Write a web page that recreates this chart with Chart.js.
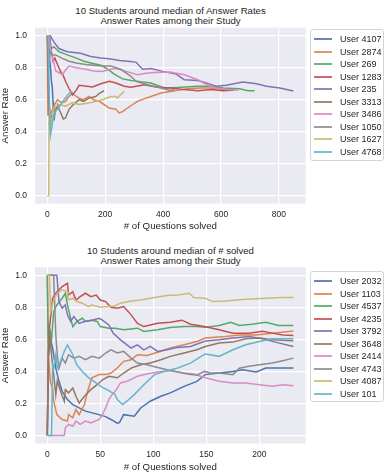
<!DOCTYPE html>
<html>
<head>
<meta charset="utf-8">
<script src="https://cdn.jsdelivr.net/npm/chart.js@4/dist/chart.umd.min.js"></script>
<style>
  body { margin: 0; background: #fff; font-family: "Liberation Sans", Arial, sans-serif; }
  #wrap { position: relative; width: 387px; height: 475px; overflow: hidden; }
  canvas { position: absolute; left: 0; }
  .title { position: absolute; left: 35px; width: 271px; text-align: center; font-size: 9.6px; line-height: 10px; color: #262626; white-space: nowrap; }
  .legend { position: absolute; left: 310px; width: 74px; box-sizing: border-box; border: 1px solid #d4d4d4; border-radius: 3px; background: rgba(255,255,255,0.85); padding: 3px 0 0 3px; }
  .legend-item { height: 12.5px; display: flex; align-items: center; font-size: 9px; color: #262626; white-space: nowrap; }
  .legend-swatch { width: 18px; height: 0; border-top: 2px solid; opacity: 0.85; margin-right: 8px; }
</style>
</head>
<body>
<div id="wrap">
  <div class="title" style="top:5.5px">10 Students around median of Answer Rates<br>Answer Rates among their Study</div>
  <canvas id="chart-top" width="387" height="237" style="top:0"></canvas>
  <div class="legend" id="legend-top" style="top:29px;height:132px"></div>

  <div class="title" style="top:245.5px">10 Students around median of # solved<br>Answer Rates among their Study</div>
  <canvas id="chart-bottom" width="387" height="238" style="top:237px"></canvas>
  <div class="legend" id="legend-bottom" style="top:271px;height:131px"></div>
</div>
<script>
// ---------------- labels / ticks ----------------
const TOP_USERS = ["User 4107", "User 2874", "User 269", "User 1283", "User 235",
                   "User 3313", "User 3486", "User 1050", "User 1627", "User 4768"];
const BOTTOM_USERS = ["User 2032", "User 1103", "User 4537", "User 4235", "User 3792",
                      "User 3648", "User 2414", "User 4743", "User 4087", "User 101"];
const COLORS = ["#4C72B0", "#DD8452", "#55A868", "#C44E52", "#8172B3",
                "#937860", "#DA8BC3", "#8C8C8C", "#CCB974", "#64B5CD"];
const TOP_X_TICKS = [0, 200, 400, 600, 800];
const BOTTOM_X_TICKS = [0, 50, 100, 150, 200];
const Y_TICKS = [0, 0.2, 0.4, 0.6, 0.8, 1.0];

// ---------------- top chart: [questions solved, answer rate] ----------------
const top4107 = [[0,1],[4,1],[7,0.86],[11,0.81],[14,0.72],[17,0.68],[20,0.58],[23,0.47],[27,0.52],[32,0.55],[36,0.57],[40,0.56]];
const top2874 = [[0,1],[2,0.5],[5,0.6],[10,0.5],[20,0.55],[35,0.6],[50,0.58],[63,0.59],[75,0.62],[87,0.64],[100,0.62],[110,0.61],[125,0.6],[144,0.62],[160,0.6],[179,0.59],[196,0.57],[214,0.548],[237,0.54],[248,0.517],[260,0.525],[277,0.548],[295,0.57],[312,0.59],[335,0.605],[358,0.62],[393,0.642],[439,0.656],[485,0.669],[531,0.673],[566,0.673],[600,0.665],[640,0.66]];
const top269 = [[0,1],[6,1],[12,0.92],[23,0.93],[40,0.9],[69,0.88],[100,0.86],[127,0.84],[150,0.83],[185,0.815],[210,0.79],[231,0.76],[260,0.73],[290,0.72],[323,0.713],[358,0.704],[404,0.673],[451,0.677],[520,0.684],[566,0.684],[607,0.673],[664,0.669],[693,0.656],[716,0.656]];
const top1283 = [[0,1],[8,1],[14,0.9],[20,0.84],[26,0.86],[35,0.82],[45,0.78],[55,0.75],[63,0.715],[75,0.67],[87,0.63],[100,0.66],[110,0.69],[130,0.685],[156,0.68],[185,0.7],[214,0.715],[237,0.704],[266,0.684],[289,0.678],[335,0.694],[381,0.678],[427,0.673],[473,0.663],[520,0.656],[566,0.663],[607,0.656],[647,0.66]];
const top235 = [[0,1],[10,1],[23,0.96],[40,0.92],[69,0.9],[115,0.89],[150,0.87],[185,0.86],[219,0.855],[250,0.845],[277,0.84],[306,0.835],[329,0.79],[358,0.795],[398,0.777],[445,0.76],[473,0.725],[520,0.72],[549,0.705],[583,0.684],[618,0.69],[676,0.71],[722,0.7],[757,0.684],[803,0.673],[850,0.655]];
const top3313 = [[0,1],[4,0.67],[8,0.44],[15,0.5],[23,0.51],[35,0.56],[46,0.52],[55,0.48],[63,0.486],[75,0.54],[90,0.57],[110,0.6],[125,0.59],[144,0.61],[167,0.62],[180,0.64],[196,0.656]];
const top3486 = [[0,1],[6,1],[11,0.92],[20,0.85],[29,0.78],[40,0.77],[52,0.756],[65,0.79],[75,0.81],[100,0.8],[133,0.79],[160,0.78],[190,0.777],[219,0.79],[237,0.795],[266,0.78],[312,0.756],[340,0.765],[370,0.77],[422,0.773],[473,0.756],[520,0.725],[549,0.694],[583,0.673],[629,0.663],[660,0.659]];
const top1050 = [[0,1],[5,0.8],[10,0.9],[17,0.88],[29,0.88],[50,0.86],[75,0.84],[100,0.83],[133,0.82],[160,0.815],[190,0.81],[219,0.81],[237,0.8],[254,0.79],[289,0.746],[306,0.715],[347,0.694],[393,0.673],[422,0.659],[440,0.66]];
const top1627 = [[0,0],[5,0],[6,0.46],[10,0.5],[15,0.45],[23,0.548],[40,0.57],[63,0.56],[87,0.58],[110,0.57],[144,0.58],[190,0.6],[219,0.62],[237,0.62],[243,0.61],[255,0.635],[266,0.652]];
const top4768 = [[0,1],[4,1],[7,0.6],[11,0.38],[15,0.42],[20,0.48],[29,0.53],[40,0.55],[50,0.58],[58,0.6],[75,0.64],[87,0.65]];

// ---------------- bottom chart ----------------
const bot2032 = [[0,0],[1,0.5],[3,0.6],[5,0.546],[6,0.504],[8,0.42],[11,0.338],[14,0.276],[19,0.224],[24,0.193],[30,0.172],[36,0.152],[46,0.135],[55,0.118],[60,0.1],[66,0.077],[68,0.08],[72,0.13],[82,0.12],[88,0.172],[97,0.214],[107,0.245],[116,0.266],[129,0.307],[141,0.338],[149,0.38],[162,0.39],[175,0.4],[184,0.41],[197,0.396],[206,0.421],[218,0.421],[232,0.421]];
const bot1103 = [[0,1],[1,0.5],[3,0.33],[5,0.297],[6,0.214],[9,0.13],[14,0.1],[19,0.09],[20,0.13],[24,0.11],[27,0.162],[30,0.13],[35,0.193],[38,0.276],[42,0.36],[49,0.38],[55,0.38],[60,0.39],[66,0.421],[72,0.463],[79,0.473],[85,0.504],[94,0.5],[104,0.52],[116,0.546],[129,0.566],[141,0.587],[149,0.608],[168,0.618],[181,0.628],[197,0.628],[212,0.639],[232,0.653]];
const bot4537 = [[0,1],[1,0.5],[2,0.67],[4,0.6],[6,0.774],[9,0.815],[14,0.857],[17,0.888],[19,0.815],[22,0.732],[24,0.68],[28,0.712],[33,0.732],[36,0.712],[42,0.72],[47,0.712],[50,0.68],[58,0.67],[64,0.67],[72,0.66],[85,0.67],[91,0.65],[104,0.66],[116,0.674],[129,0.68],[141,0.68],[149,0.675],[162,0.687],[173,0.707],[181,0.687],[193,0.695],[206,0.707],[218,0.687],[232,0.687]];
const bot4235 = [[0,0],[1,0.5],[2,0.67],[5,0.857],[8,0.888],[14,0.93],[19,0.95],[20,0.877],[24,0.898],[27,0.846],[31,0.867],[36,0.888],[41,0.867],[46,0.877],[50,0.846],[55,0.836],[60,0.8],[66,0.795],[72,0.805],[79,0.753],[85,0.7],[91,0.68],[104,0.7],[116,0.707],[127,0.72],[135,0.695],[148,0.68],[162,0.66],[175,0.639],[190,0.639],[203,0.65],[212,0.639],[222,0.628],[232,0.625]];
const bot3792 = [[0,1],[6,1],[9,1],[11,0.836],[14,0.795],[17,0.815],[19,0.753],[22,0.712],[25,0.743],[30,0.7],[35,0.712],[42,0.72],[49,0.732],[52,0.72],[58,0.69],[62,0.64],[69,0.597],[79,0.546],[85,0.566],[91,0.535],[97,0.556],[104,0.525],[113,0.535],[123,0.55],[135,0.556],[149,0.59],[162,0.597],[175,0.608],[190,0.618],[203,0.604],[215,0.583],[232,0.556]];
const bot3648 = [[0,0],[1,0.5],[2,0.67],[4,0.5],[6,0.38],[8,0.255],[9.4,0.34],[12.5,0.276],[16,0.214],[17,0.286],[20,0.266],[24,0.297],[27,0.245],[30,0.203],[35,0.245],[41,0.286],[47,0.317],[52,0.348],[58,0.37],[66,0.36],[72,0.39],[79,0.421],[88,0.442],[97,0.452],[107,0.473],[116,0.494],[129,0.515],[141,0.535],[149,0.556],[162,0.577],[175,0.583],[187,0.604],[200,0.608],[212,0.597],[232,0.591]];
const bot2414 = [[0,0],[16,0],[17,0.048],[20,0.069],[24,0.058],[27,0.09],[31,0.069],[36,0.09],[41,0.079],[49,0.1],[52,0.13],[55,0.172],[58,0.224],[61,0.255],[64,0.276],[69,0.328],[75,0.338],[85,0.37],[94,0.384],[104,0.396],[116,0.404],[129,0.39],[138,0.384],[149,0.36],[162,0.338],[175,0.328],[187,0.328],[200,0.317],[212,0.307],[222,0.317],[232,0.311]];
const bot4743 = [[0,1],[6,1],[8,0.628],[9.4,0.504],[11,0.42],[14,0.483],[17,0.452],[20,0.504],[25,0.483],[30,0.494],[36,0.473],[42,0.494],[49,0.483],[55,0.515],[60,0.535],[66,0.515],[72,0.525],[79,0.483],[85,0.452],[94,0.442],[104,0.425],[113,0.41],[123,0.396],[132,0.384],[141,0.376],[148,0.4],[154,0.39],[162,0.39],[175,0.38],[181,0.42],[190,0.432],[200,0.442],[212,0.452],[222,0.467],[232,0.483]];
const bot4087 = [[0,1],[2,1],[3,0.774],[6,0.846],[9.4,0.888],[14,0.909],[19,0.898],[19.5,0.846],[24,0.857],[28,0.836],[33,0.826],[39,0.805],[42,0.815],[50,0.8],[58,0.805],[64,0.81],[69,0.826],[79,0.84],[88,0.846],[101,0.861],[113,0.874],[123,0.877],[134,0.888],[138,0.861],[149,0.857],[156,0.836],[168,0.84],[187,0.851],[206,0.857],[222,0.861],[232,0.861]];
const bot101 = [[0,0],[4,0],[5,0.44],[6,0.42],[8,0.504],[9.4,0.42],[12.5,0.463],[16,0.525],[19,0.566],[24,0.504],[28,0.44],[33,0.4],[39,0.36],[46,0.328],[52,0.3],[58,0.28],[64,0.255],[66,0.224],[71,0.193],[75,0.214],[82,0.255],[91,0.317],[101,0.38],[110,0.4],[123,0.421],[135,0.452],[145,0.494],[149,0.508],[162,0.494],[175,0.535],[187,0.566],[200,0.587],[212,0.604],[232,0.604]];

const TOP_SERIES = [top4107, top2874, top269, top1283, top235, top3313, top3486, top1050, top1627, top4768];
const BOTTOM_SERIES = [bot2032, bot1103, bot4537, bot4235, bot3792, bot3648, bot2414, bot4743, bot4087, bot101];

// ---------------- helpers ----------------
const FONT = "'Liberation Sans', Arial, sans-serif";
const TEXT = "#262626";

const plotBg = {
  id: "plotBg",
  beforeDraw(chart) {
    const a = chart.chartArea, ctx = chart.ctx;
    ctx.save();
    ctx.fillStyle = "#EAEAF2";
    ctx.fillRect(a.left, a.top, a.right - a.left, a.bottom - a.top);
    ctx.restore();
  }
};

function renderLegend(id, users) {
  const el = document.getElementById(id);
  el.innerHTML = "";
  users.forEach((u, i) => {
    el.innerHTML += `<div class="legend-item"><span class="legend-swatch" style="border-color:${COLORS[i]}"></span>${u}</div>`;
  });
}

function buildChart(id, users, series, xMin, xMax, xTicks, padTop, axisH, titlePad) {
  const n = series.length;
  const datasets = series.map((pts, i) => ({
    label: users[i],
    data: pts.map(p => ({ x: p[0], y: p[1] })),
    borderColor: COLORS[i],
    borderWidth: 1.5,
    pointRadius: 0,
    fill: false,
    tension: 0,
    order: n - 1 - i
  }));

  return new Chart(document.getElementById(id).getContext("2d"), {
    type: "line",
    data: { datasets },
    options: {
      responsive: false,
      animation: false,
      devicePixelRatio: 1,
      layout: { padding: { left: 0, right: 81.3, top: padTop, bottom: 0 } },
      plugins: { legend: { display: false }, tooltip: { enabled: false } },
      scales: {
        x: {
          type: "linear", min: xMin, max: xMax,
          afterBuildTicks: s => { s.ticks = xTicks.map(v => ({ value: v })); },
          afterFit: s => { s.height = axisH; },
          grid: { color: "#fff", lineWidth: 1.2, drawTicks: false },
          border: { display: false },
          ticks: { autoSkip: false, padding: 6, color: TEXT, font: { size: 8.5, family: FONT }, callback: v => String(v) },
          title: { display: true, text: "# of Questions solved", color: TEXT, font: { size: 9.7, family: FONT }, padding: { top: 0, bottom: titlePad } }
        },
        y: {
          type: "linear", min: -0.05, max: 1.05,
          afterBuildTicks: s => { s.ticks = Y_TICKS.map(v => ({ value: v })); },
          afterFit: s => { s.width = 35; },
          grid: { color: "#fff", lineWidth: 1.2, drawTicks: false },
          border: { display: false },
          ticks: { autoSkip: false, padding: 8, color: TEXT, font: { size: 8.5, family: FONT }, callback: v => v.toFixed(1) },
          title: { display: true, text: "Answer Rate", color: TEXT, font: { size: 9.7, family: FONT }, padding: 0 }
        }
      }
    },
    plugins: [plotBg]
  });
}

buildChart("chart-top", TOP_USERS, TOP_SERIES, -42.5, 892.5, TOP_X_TICKS, 27.7, 33.3, 4.5);
buildChart("chart-bottom", BOTTOM_USERS, BOTTOM_SERIES, -11.6, 243.6, BOTTOM_X_TICKS, 30.3, 31.5, 2);
renderLegend("legend-top", TOP_USERS);
renderLegend("legend-bottom", BOTTOM_USERS);
</script>
</body>
</html>
